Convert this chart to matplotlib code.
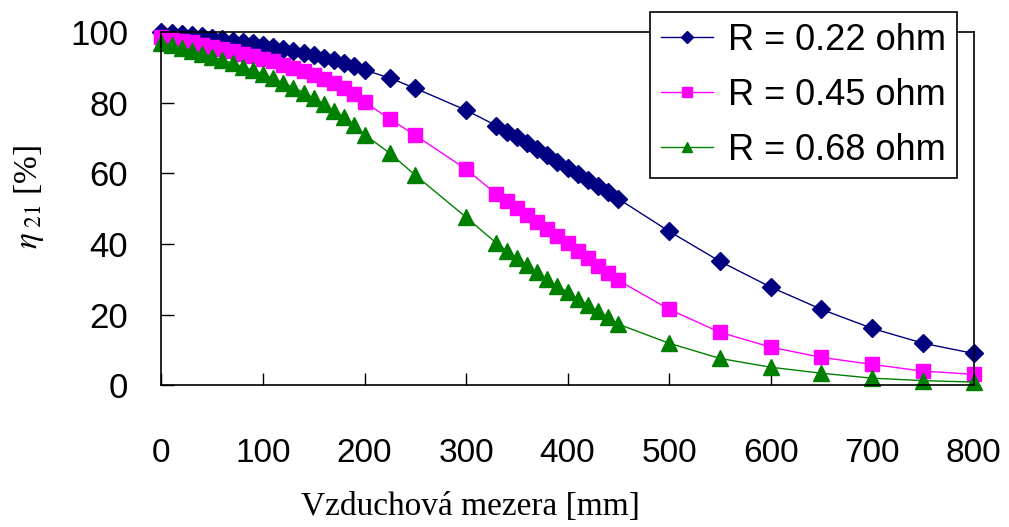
import numpy as np
import matplotlib
import matplotlib.pyplot as plt

matplotlib.rcParams.update({'font.family': 'Liberation Sans', 'mathtext.fontset': 'stix'})

# air gap [mm] - dense sampling near the origin and between 330 and 450 mm
gap = np.array([0, 10, 20, 30, 40, 50, 60, 70, 80, 90, 100, 110, 120, 130, 140, 150, 160, 170, 180, 190, 200,
                225, 250, 300,
                330, 340, 350, 360, 370, 380, 390, 400, 410, 420, 430, 440, 450,
                500, 550, 600, 650, 700, 750, 800])

# efficiency eta_21 [%]
eff_022 = np.array([100, 99.8, 99.5, 99.2, 98.8, 98.4, 98.0, 97.6, 97.2, 96.8, 96.3, 95.8, 95.3, 94.7, 94.1, 93.5,
                    92.8, 92.1, 91.3, 90.4, 89.3,
                    87.0, 84.1, 77.9,
                    73.5, 71.8, 70.2, 68.5, 66.8, 65.1, 63.3, 61.6, 59.8, 58.1, 56.3, 54.6, 52.8,
                    43.6, 35.1, 27.8, 21.5, 16.1, 11.9, 9.0])
eff_045 = np.array([98.5, 98.1, 97.6, 97.1, 96.5, 95.9, 95.3, 94.6, 93.9, 93.2, 92.5, 91.7, 90.8, 89.9, 88.9, 87.9,
                    86.8, 85.6, 84.3, 82.6, 80.2,
                    75.4, 70.8, 61.2,
                    54.1, 52.2, 50.2, 48.2, 46.2, 44.2, 42.2, 40.2, 38.1, 36.0, 33.9, 31.8, 29.7,
                    21.5, 15.0, 10.8, 7.9, 5.9, 4.0, 3.1])
eff_068 = np.array([97.0, 96.3, 95.5, 94.7, 93.9, 93.0, 92.1, 91.2, 90.2, 89.2, 88.2, 86.9, 85.6, 84.3, 82.9, 81.3,
                    79.6, 77.8, 75.9, 73.7, 71.0,
                    65.7, 59.5, 47.6,
                    40.2, 38.1, 36.0, 34.0, 32.0, 30.0, 28.1, 26.3, 24.5, 22.7, 21.0, 19.2, 17.3,
                    11.9, 7.6, 5.1, 3.4, 2.0, 1.3, 0.9])

labels  = ['R = 0.22 ohm', 'R = 0.45 ohm', 'R = 0.68 ohm']
colors  = ['#000080', '#ff00ff', '#008000']
markers = ['D', 's', '^']
sizes   = [9, 10, 11]
xticks  = [0, 100, 200, 300, 400, 500, 600, 700, 800]
yticks  = [0, 20, 40, 60, 80, 100]

fig = plt.figure(figsize=(10.09, 5.27), dpi=100)
ax = fig.add_axes([0.160, 0.269, 0.805, 0.670])

for y, lab, c, m, s in zip([eff_022, eff_045, eff_068], labels, colors, markers, sizes):
    ax.plot(gap, y, '-', marker=m, ms=s, c=c, lw=1, mec=c, label=lab, clip_on=False)

ax.set_xlim(0, 800)
ax.set_ylim(0, 100)
ax.set_xticks(xticks)
ax.set_yticks(yticks)
ax.tick_params(axis='x', direction='in', length=9, width=1, pad=38, labelsize=24)
ax.tick_params(axis='y', direction='in', length=9, width=1, pad=24, labelsize=25)
for sp in ax.spines.values():
    sp.set_linewidth(1.2)

ax.text(0.38, -0.345, 'Vzduchová mezera [mm]', transform=ax.transAxes, ha='center', va='center',
        family='Liberation Serif', fontsize=24)
ax.text(-0.163, 0.533, r'$\eta_{\ 21}$ [%]', transform=ax.transAxes, ha='center', va='center',
        rotation=90, family='Liberation Serif', fontsize=24)

leg = ax.legend(loc='upper right', bbox_to_anchor=(0.979, 1.057), borderaxespad=0, fontsize=26,
                frameon=True, fancybox=False, framealpha=1, edgecolor='black', handlelength=1.45,
                handletextpad=0.4, labelspacing=0.55, borderpad=0.3, markerscale=0.7)
leg.get_frame().set_linewidth(1.2)
leg.set_zorder(5)

plt.savefig('out.png', dpi=100)
